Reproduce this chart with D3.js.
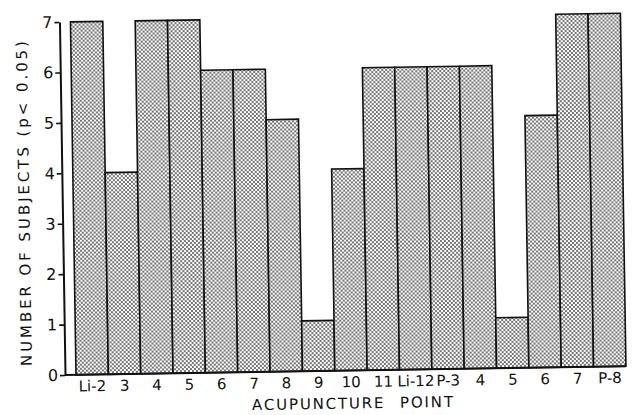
<!DOCTYPE html>
<html>
<head>
<meta charset="utf-8">
<script src="https://cdn.jsdelivr.net/npm/d3@7"></script>
<style>
  body { margin: 0; background: #fff; }
  svg { display: block; }
  text { font-family: "DejaVu Sans", sans-serif; fill: #111; }
</style>
</head>
<body>
<script>
var width = 632, height = 415;

// acupuncture points along the x axis, in order
var points = ["Li-2", "3", "4", "5", "6", "7", "8", "9", "10", "11", "Li-12", "P-3", "4", "5", "6", "7", "P-8"];
// number of subjects with p<0.05 for each point
var subjects = [7, 4, 7, 7, 6, 6, 5, 1, 4, 6, 6, 6, 6, 1, 5, 7, 7];
var yTicks = [0, 1, 2, 3, 4, 5, 6, 7];

var svg = d3.select("body")
    .append("svg")
    .attr("width", width)
    .attr("height", height);

// halftone dot fill like the printed original
var pat = svg.append("defs").append("pattern")
    .attr("id", "dots")
    .attr("patternUnits", "userSpaceOnUse")
    .attr("width", 4)
    .attr("height", 4);
pat.append("rect").attr("width", 4).attr("height", 4).attr("fill", "#fff");
pat.append("circle").attr("cx", 1).attr("cy", 1).attr("r", 0.9).attr("fill", "#333");
pat.append("circle").attr("cx", 3).attr("cy", 3).attr("r", 0.9).attr("fill", "#333");

var x0 = 65, y0 = 375;

// the scan is tilted a little, so the whole chart is rotated about its origin
var g = svg.append("g")
    .attr("transform", "rotate(-0.9," + x0 + "," + y0 + ")");

var x = d3.scaleBand()
    .domain(d3.range(points.length))
    .range([76, 626])
    .padding(0);

var y = d3.scaleLinear()
    .domain([0, 7])
    .range([y0, 22]);

g.append("g").selectAll("rect")
    .data(subjects)
  .enter().append("rect")
    .attr("x", function(d, i) { return x(i); })
    .attr("y", function(d) { return y(d); })
    .attr("width", x.bandwidth())
    .attr("height", function(d) { return y(0) - y(d); })
    .attr("fill", "url(#dots)")
    .attr("stroke", "#111")
    .attr("stroke-width", 1.6);

// y axis
var yAxis = g.append("g")
    .attr("transform", "translate(" + x0 + ",0)")
    .call(d3.axisLeft(y).tickValues(yTicks).tickFormat(d3.format("d"))
      .tickSize(5).tickSizeOuter(0).tickPadding(2));
yAxis.select(".domain").attr("stroke", "#111").attr("stroke-width", 2);
yAxis.selectAll(".tick line").attr("stroke", "#111").attr("stroke-width", 1.6);
yAxis.selectAll(".tick text")
    .attr("font-family", "DejaVu Sans, sans-serif")
    .attr("font-size", 16)
    .attr("fill", "#111");

// baseline
g.append("line")
    .attr("x1", x0).attr("x2", x.range()[1])
    .attr("y1", y0).attr("y2", y0)
    .attr("stroke", "#111")
    .attr("stroke-width", 2);

// x labels
var xAxis = g.append("g")
    .attr("transform", "translate(0," + y0 + ")")
    .call(d3.axisBottom(x).tickFormat(function(i) { return points[i]; }).tickSize(0).tickPadding(6));
xAxis.select(".domain").remove();
xAxis.selectAll(".tick text")
    .attr("font-family", "DejaVu Sans, sans-serif")
    .attr("font-size", 15)
    .attr("fill", "#111");

// axis titles
g.append("text")
    .attr("x", 352)
    .attr("y", 413)
    .attr("text-anchor", "middle")
    .attr("font-size", 15)
    .attr("textLength", 201)
    .attr("lengthAdjust", "spacing")
    .attr("word-spacing", 8)
    .text("ACUPUNCTURE POINT");

g.append("text")
    .attr("transform", "translate(32,203) rotate(-90)")
    .attr("text-anchor", "middle")
    .attr("font-size", 15)
    .attr("textLength", 325)
    .attr("lengthAdjust", "spacing")
    .text("NUMBER OF SUBJECTS (p< 0.05)");
</script>
</body>
</html>
